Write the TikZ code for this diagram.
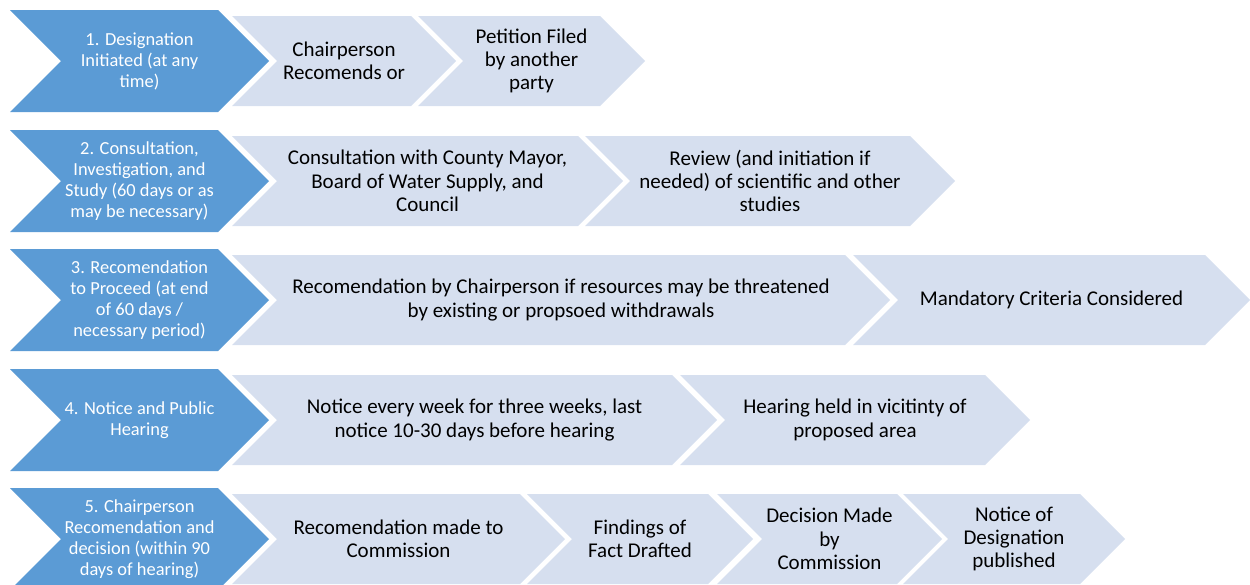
\documentclass[tikz,border=0pt]{standalone}
\usepackage{fontspec}
\setmainfont{Carlito}
\usepackage{tikz}
\definecolor{stepblue}{RGB}{91,155,213}
\definecolor{steplight}{RGB}{214,223,239}

\tikzset{
  darkchev/.style={fill=stepblue},
  lightchev/.style={fill=steplight},
  darktxt/.style={text=white,align=center,inner sep=0pt,font=\fontsize{18.4}{21}\selectfont},
  lighttxt/.style={text=black,align=center,inner sep=0pt,font=\fontsize{21}{23.3}\selectfont}
}

% dark chevron at the start of a row: name, centre y, text
\newcommand{\darkstage}[3]{%
  \fill[darkchev] (10,#2-51) -- (218,#2-51) -- (269,#2) -- (218,#2+51) -- (10,#2+51) -- (61,#2) -- cycle;
  \node[darktxt] (#1) at (139.5,#2) {#3};}
% light chevron: name, left, right, centre y, text
\newcommand{\lightstage}[5]{%
  \fill[lightchev] (#2,#4-45) -- (#3,#4-45) -- (#3+45,#4) -- (#3,#4+45) -- (#2,#4+45) -- (#2+45,#4) -- cycle;
  \node[lighttxt] (#1) at ({(#2+#3+45)/2},#4) {#5};}

\begin{document}
\begin{tikzpicture}[x=1pt,y=-1pt]
  \useasboundingbox (0,0) rectangle (1250,584);
  \clip (0,0) rectangle (1250,584);

  % row 1
  \darkstage{init}{61}{1. Designation\\Initiated (at any\\time)}
  \lightstage{chair}{232}{411}{61}{Chairperson\\Recomends or}
  \lightstage{petition}{418}{600}{61}{Petition Filed\\by another\\party}

  % row 2
  \darkstage{consult}{181}{2. Consultation,\\Investigation, and\\Study (60 days or as\\may be necessary)}
  \lightstage{mayor}{232}{578}{181}{Consultation with County Mayor,\\Board of Water Supply, and\\Council}
  \lightstage{review}{585}{910}{181}{Review (and initiation if\\needed) of scientific and other\\studies}

  % row 3
  \darkstage{proceed}{300}{3. Recomendation\\to Proceed (at end\\of 60 days /\\necessary period)}
  \lightstage{threat}{232}{845}{300}{Recomendation by Chairperson if resources may be threatened\\by existing or propsoed withdrawals}
  \lightstage{criteria}{853}{1205}{300}{Mandatory Criteria Considered}

  % row 4
  \darkstage{notice}{420}{4. Notice and Public\\Hearing}
  \lightstage{weekly}{232}{672}{420}{Notice every week for three weeks, last\\notice 10-30 days before hearing}
  \lightstage{hearing}{680}{985}{420}{Hearing held in vicitinty of\\proposed area}

  % row 5
  \darkstage{decide}{539}{5. Chairperson\\Recomendation and\\decision (within 90\\days of hearing)}
  \lightstage{tocomm}{232}{520}{539}{Recomendation made to\\Commission}
  \lightstage{findings}{527}{708}{539}{Findings of\\Fact Drafted}
  \lightstage{made}{717}{897}{539}{Decision Made\\by\\Commission}
  \lightstage{published}{903}{1080}{539}{Notice of\\Designation\\published}
\end{tikzpicture}
\end{document}
